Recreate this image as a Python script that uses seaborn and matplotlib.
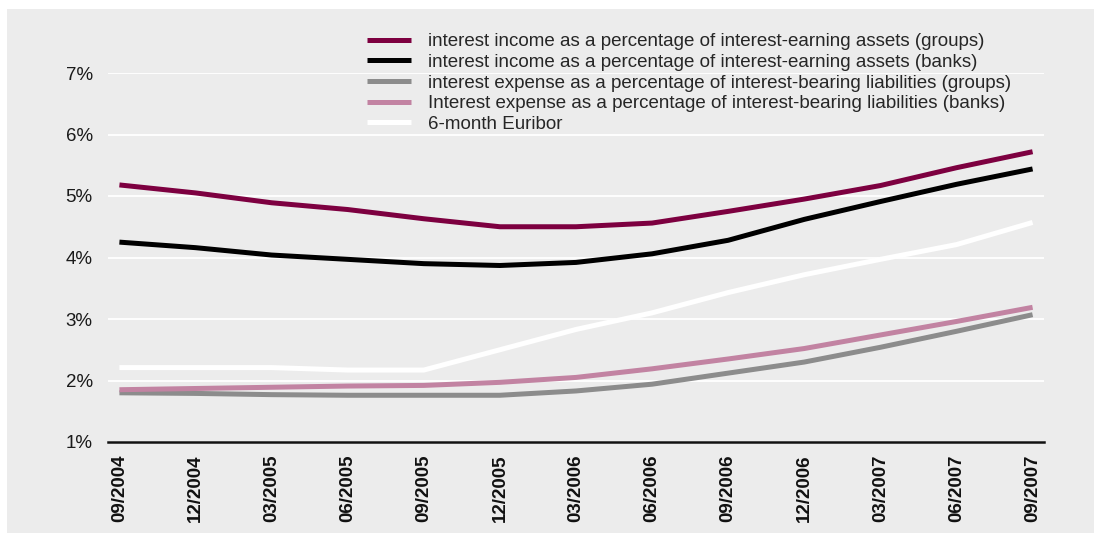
import matplotlib
matplotlib.use("Agg")
import matplotlib.pyplot as plt
from matplotlib.patches import Rectangle
import seaborn as sns
import pandas as pd

quarters = ["09/2004", "12/2004", "03/2005", "06/2005", "09/2005", "12/2005", "03/2006",
            "06/2006", "09/2006", "12/2006", "03/2007", "06/2007", "09/2007"]

income_groups = [5.18, 5.05, 4.89, 4.78, 4.63, 4.50, 4.50, 4.56, 4.75, 4.95, 5.17, 5.46, 5.72]
income_banks = [4.25, 4.16, 4.04, 3.97, 3.90, 3.87, 3.92, 4.06, 4.28, 4.62, 4.91, 5.19, 5.44]
expense_groups = [1.80, 1.79, 1.77, 1.76, 1.76, 1.76, 1.83, 1.94, 2.12, 2.30, 2.54, 2.80, 3.07]
expense_banks = [1.85, 1.87, 1.89, 1.91, 1.92, 1.97, 2.05, 2.19, 2.35, 2.52, 2.74, 2.96, 3.19]
euribor_6m = [2.21, 2.21, 2.21, 2.17, 2.17, 2.50, 2.83, 3.10, 3.43, 3.72, 3.97, 4.21, 4.57]

series_names = [
    "interest income as a percentage of interest-earning assets (groups)",
    "interest income as a percentage of interest-earning assets (banks)",
    "interest expense as a percentage of interest-bearing liabilities (groups)",
    "Interest expense as a percentage of interest-bearing liabilities (banks)",
    "6-month Euribor",
]
series_values = [income_groups, income_banks, expense_groups, expense_banks, euribor_6m]
series_colors = ["#7d0040", "#000000", "#8c8c8c", "#c283a2", "#ffffff"]

y_ticks = [1, 2, 3, 4, 5, 6, 7]
y_tick_labels = ["1%", "2%", "3%", "4%", "5%", "6%", "7%"]

rows = []
for name, vals in zip(series_names, series_values):
    for i, v in enumerate(vals):
        rows.append({"pos": i, "quarter": quarters[i], "rate": v, "series": name})
df = pd.DataFrame(rows)

sns.set_theme(style="white")
plt.rcParams["font.family"] = ["Liberation Sans", "DejaVu Sans"]

bg = "#ececec"
fig = plt.figure(figsize=(10.94, 5.33), dpi=100, facecolor="white")
panel = Rectangle((7 / 1094, 0), 1, 1 - 9 / 533, transform=fig.transFigure,
                  facecolor=bg, edgecolor="none", zorder=-10)
fig.add_artist(panel)

ax = fig.add_axes([108 / 1094, 1 - 442 / 533, (1044 - 108) / 1094, (442 - 73) / 533])
ax.set_zorder(1)
ax.set_facecolor(bg)

sns.lineplot(data=df, x="pos", y="rate", hue="series", hue_order=series_names,
             palette=series_colors, linewidth=3.6, ax=ax, sort=False,
             solid_capstyle="butt", zorder=3)

ax.set_xlim(-0.15, 12.15)
ax.set_ylim(1, 7)
ax.set_yticks(y_ticks)
ax.set_yticklabels(y_tick_labels, fontsize=13.5, color="#1a1a1a")
ax.set_xticks(range(len(quarters)))
ax.set_xticklabels(quarters, rotation=90, fontsize=13.5, fontweight="bold", color="#111111")
ax.tick_params(axis="y", length=0, pad=11)
ax.tick_params(axis="x", length=0, pad=9)
ax.set_xlabel("")
ax.set_ylabel("")

ax.grid(axis="y", color="white", linewidth=1.3, zorder=1)
ax.set_axisbelow(True)
for side in ["top", "right", "left"]:
    ax.spines[side].set_visible(False)
ax.spines["bottom"].set_color("#111111")
ax.spines["bottom"].set_linewidth(1.8)
ax.spines["bottom"].set_zorder(4)

leg = ax.legend(loc="upper left", bbox_to_anchor=(367 / 1094, 1 - 33 / 533),
                bbox_transform=fig.transFigure, frameon=False, fontsize=13.5,
                handlelength=2.35, handletextpad=0.9, labelspacing=0.19,
                borderpad=0, borderaxespad=0)
for line in leg.get_lines():
    line.set_linewidth(3.6)

fig.savefig("out.png", dpi=100, facecolor=fig.get_facecolor())
